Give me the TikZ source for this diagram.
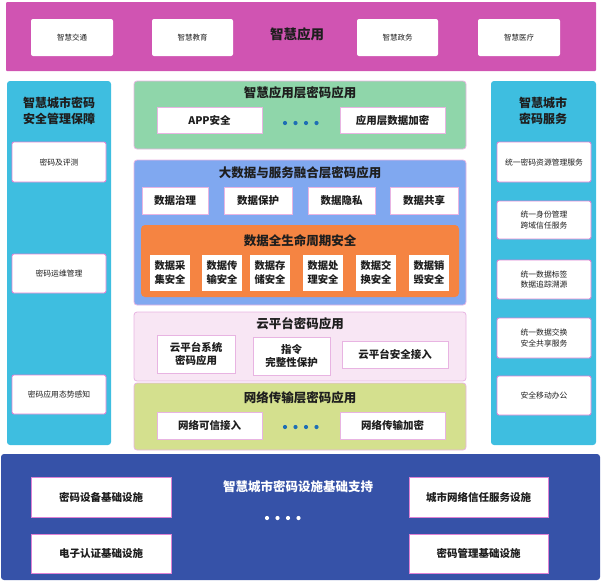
\documentclass[tikz,border=0pt]{standalone}
\usepackage{fontspec}
\setmainfont{Noto Sans CJK SC}
\definecolor{topband}{RGB}{208,84,178}
\definecolor{sideblue}{RGB}{62,190,224}
\definecolor{layergreen}{RGB}{143,214,170}
\definecolor{layerblue}{RGB}{128,168,240}
\definecolor{layerorange}{RGB}{245,132,66}
\definecolor{layercloud}{RGB}{248,230,244}
\definecolor{layernet}{RGB}{212,224,142}
\definecolor{bottomblue}{RGB}{54,82,168}
\definecolor{pinkline}{RGB}{222,130,212}
\definecolor{softline}{RGB}{232,180,226}
\definecolor{dotblue}{RGB}{30,110,180}
\definecolor{txt}{RGB}{30,30,30}
\newcommand\rbox[7]{\node[#6,minimum width={#4pt-#2pt},minimum height={#5pt-#3pt}] (#1) at ({(#2+#4)/2},{(#3+#5)/2}) {#7};}
\tikzset{
  base/.style={inner sep=0pt,outer sep=0pt,align=center,text=txt},
  band/.style={base,rounded corners=1pt},
  side/.style={base,fill=sideblue,rounded corners=3pt},
  layer/.style={base,rounded corners=3pt,draw=softline,line width=0.8pt},
  topw/.style={base,fill=white,rounded corners=2pt,font=\fontsize{7.5}{8}\selectfont},
  sidew/.style={base,fill=white,draw=pinkline,line width=0.9pt,rounded corners=2pt,font=\fontsize{7.8}{10.5}\selectfont},
  midw/.style={base,fill=white,draw=softline,line width=0.8pt,font=\bfseries\fontsize{10.5}{13}\selectfont},
  orw/.style={base,fill=white,font=\bfseries\fontsize{10.3}{14}\selectfont},
  botw/.style={base,fill=white,draw=pinkline,line width=0.8pt,font=\bfseries\fontsize{10.5}{12}\selectfont},
  ttl/.style={base,font=\bfseries\fontsize{12.5}{14}\selectfont},
  dot/.style={circle,inner sep=0pt,minimum size=4.2pt}
}
\begin{document}
\begin{tikzpicture}[x=1pt,y=-1pt]
\useasboundingbox (0,0) rectangle (601,582);
% top band
\rbox{top}{6}{2}{596}{71}{band,fill=topband}{}
\rbox{t1}{31}{19}{113}{56}{topw}{智慧交通}
\rbox{t2}{152}{19}{233}{56}{topw}{智慧教育}
\rbox{t3}{357}{19}{438}{56}{topw}{智慧政务}
\rbox{t4}{478}{19}{560}{56}{topw}{智慧医疗}
\node[ttl,font=\bfseries\fontsize{13.5}{14}\selectfont] (toptitle) at (297,34) {智慧应用};
% left panel
\rbox{left}{7}{81}{111}{445}{side}{}
\node[ttl,font=\bfseries\fontsize{12}{15.5}\selectfont] (lefttitle) at (59,111) {智慧城市密码\\安全管理保障};
\rbox{l1}{12}{142}{106}{182}{sidew}{密码及评测}
\rbox{l2}{12}{254}{106}{293}{sidew}{密码运维管理}
\rbox{l3}{12}{375}{106}{414}{sidew}{密码应用态势感知}
% right panel
\rbox{right}{491}{81}{596}{445}{side}{}
\node[ttl,font=\bfseries\fontsize{12}{15.5}\selectfont] (righttitle) at (543,111) {智慧城市\\密码服务};
\rbox{r1}{497}{142}{591}{182}{sidew}{统一密码资源管理服务}
\rbox{r2}{497}{201}{591}{239}{sidew}{统一身份管理\\跨域信任服务}
\rbox{r3}{497}{260}{591}{299}{sidew}{统一数据标签\\数据追踪溯源}
\rbox{r4}{497}{318}{591}{358}{sidew}{统一数据交换\\安全共享服务}
\rbox{r5}{497}{376}{591}{415}{sidew}{安全移动办公}
% green layer
\rbox{green}{134}{81}{466}{149}{layer,fill=layergreen}{}
\node[ttl] (greentitle) at (300,93) {智慧应用层密码应用};
\rbox{g1}{157}{107}{262}{133}{midw}{APP安全}
\rbox{g2}{340}{107}{445}{133}{midw}{应用层数据加密}
\foreach \i/\x in {1/285,2/295.5,3/306,4/316.5} \node[dot,fill=dotblue] (gd\i) at (\x,123) {};
% blue layer
\rbox{blue}{134}{160}{466}{305}{layer,fill=layerblue}{}
\node[ttl] (bluetitle) at (300,173) {大数据与服务融合层密码应用};
\rbox{b1}{142}{187}{208}{214}{midw}{数据治理}
\rbox{b2}{224}{187}{292}{214}{midw}{数据保护}
\rbox{b3}{308}{187}{375}{214}{midw}{数据隐私}
\rbox{b4}{390}{187}{458}{214}{midw}{数据共享}
% orange
\rbox{orange}{141}{225}{459}{297}{base,fill=layerorange,rounded corners=4pt}{}
\node[ttl] (orangetitle) at (300,241) {数据全生命周期安全};
\rbox{o1}{150}{255}{190}{291}{orw}{数据采\\集安全}
\rbox{o2}{202}{255}{242}{291}{orw}{数据传\\输安全}
\rbox{o3}{250}{255}{290}{291}{orw}{数据存\\储安全}
\rbox{o4}{303}{255}{343}{291}{orw}{数据处\\理安全}
\rbox{o5}{356}{255}{396}{291}{orw}{数据交\\换安全}
\rbox{o6}{409}{255}{449}{291}{orw}{数据销\\毁安全}
% cloud layer
\rbox{cloud}{134}{312}{466}{381}{layer,fill=layercloud}{}
\node[ttl] (cloudtitle) at (300,324) {云平台密码应用};
\rbox{c1}{157}{335}{235}{373}{midw}{云平台系统\\密码应用}
\rbox{c2}{253}{337}{330}{375}{midw}{指令\\完整性保护}
\rbox{c3}{342}{341}{448}{368}{midw}{云平台安全接入}
% network layer
\rbox{net}{134}{383}{466}{450}{layer,fill=layernet}{}
\node[ttl] (nettitle) at (300,398) {网络传输层密码应用};
\rbox{n1}{157}{412}{262}{439}{midw}{网络可信接入}
\rbox{n2}{340}{412}{445}{439}{midw}{网络传输加密}
\foreach \i/\x in {1/285,2/295.5,3/306,4/316.5} \node[dot,fill=dotblue] (nd\i) at (\x,427) {};
% bottom band
\rbox{bottom}{1}{454}{600}{580}{band,fill=bottomblue,rounded corners=3pt}{}
\node[ttl,text=white] (bottomtitle) at (298,487) {智慧城市密码设施基础支持};
\rbox{f1}{31}{477}{171}{517}{botw}{密码设备基础设施}
\rbox{f2}{31}{534}{171}{573}{botw}{电子认证基础设施}
\rbox{f3}{409}{477}{548}{517}{botw}{城市网络信任服务设施}
\rbox{f4}{409}{534}{548}{573}{botw}{密码管理基础设施}
\foreach \i/\x in {1/267,2/277.5,3/288,4/298.5} \node[dot,fill=white] (fd\i) at (\x,518) {};
\end{tikzpicture}
\end{document}
